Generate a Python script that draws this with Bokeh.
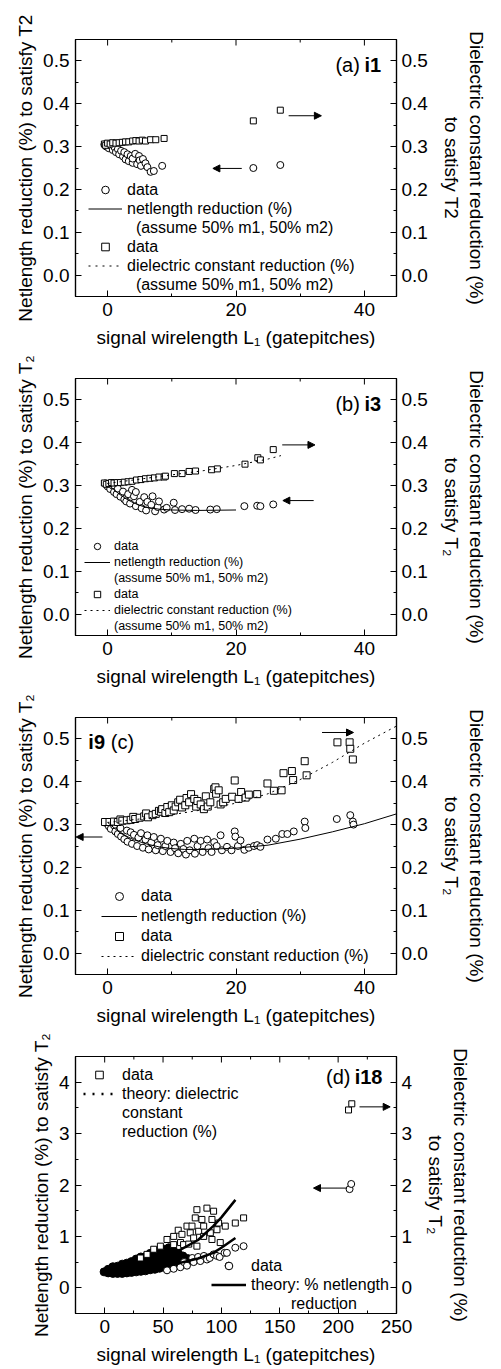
import math
from bokeh.plotting import figure
from bokeh.models import (Range1d, LinearAxis, FixedTicker, Legend, LegendItem,
                          Arrow, NormalHead, Label)
from bokeh.layouts import column
from bokeh.embed import file_html
from bokeh.resources import INLINE

FONT = "Liberation Sans"

# ---------------- tick definitions ----------------
X_TICKS_ABC = [0, 20, 40]
X_MINOR_ABC = [-10, 10, 30]
X_LABELS_ABC = ["0", "20", "40"]
Y_TICKS_ABC = [0.0, 0.1, 0.2, 0.3, 0.4, 0.5]
Y_MINOR_ABC = [-0.05, 0.05, 0.15, 0.25, 0.35, 0.45, 0.55]
Y_LABELS_ABC = ["0.0", "0.1", "0.2", "0.3", "0.4", "0.5"]
X_TICKS_D = [0, 50, 100, 150, 200, 250]
X_MINOR_D = [-25, 25, 75, 125, 175, 225]
X_LABELS_D = ["0", "50", "100", "150", "200", "250"]
Y_TICKS_D = [0, 1, 2, 3, 4]
Y_MINOR_D = [-0.5, 0.5, 1.5, 2.5, 3.5, 4.5]
Y_LABELS_D = ["0", "1", "2", "3", "4"]

# ---------------- panel (a) i1 ----------------
a_circ_x = [-0.5, -0.2, 0.2, 0.5, 0.8, 1.1, 1.3, 1.6, 1.8, 2.1, 2.4, 2.6, 2.8, 3.1, 3.3, 3.6,
            3.9, 3.9, 4.3, 4.6, 4.9, 5.0, 5.2, 5.5, 5.9, 6.2, 6.7, 7.2, 8.5, 22.7, 26.9]
a_circ_y = [0.305, 0.300, 0.296, 0.302, 0.292, 0.298, 0.287, 0.294, 0.282, 0.290, 0.277, 0.287,
            0.270, 0.282, 0.266, 0.278, 0.262, 0.272, 0.283, 0.259, 0.278, 0.268, 0.255, 0.271,
            0.261, 0.252, 0.241, 0.243, 0.255, 0.250, 0.257]
a_sq_x = [-0.5, -0.3, 0.0, 0.4, 0.8, 1.3, 1.8, 2.3, 2.8, 3.3, 3.9, 4.4, 4.9, 5.4, 5.9, 6.7,
          7.5, 8.8, 22.7, 26.9]
a_sq_y = [0.306, 0.303, 0.308, 0.306, 0.309, 0.308, 0.309, 0.310, 0.311, 0.311, 0.313, 0.314,
          0.313, 0.315, 0.313, 0.316, 0.316, 0.319, 0.360, 0.385]
a_net_x = [0, 1, 2, 3, 4, 5, 6, 7]
a_net_y = [0.305, 0.292, 0.281, 0.272, 0.264, 0.257, 0.251, 0.247]
a_diel_x = [0, 2, 4, 6, 8]
a_diel_y = [0.305, 0.308, 0.311, 0.314, 0.317]

# ---------------- panel (b) i3 ----------------
b_circ_x = [-0.4, 0.0, 0.4, 0.8, 1.0, 1.4, 1.6, 2.0, 2.4, 2.6, 2.9, 3.2, 3.5, 3.8, 4.1, 4.4,
            4.4, 5.0, 5.3, 5.7, 6.0, 6.2, 6.8, 7.0, 7.4, 7.8, 8.0, 8.8, 9.2, 10.3, 10.5, 11.6,
            12.7, 13.7, 16.0, 17.0, 21.3, 23.3, 23.8, 25.8]
b_circ_y = [0.305, 0.298, 0.292, 0.300, 0.285, 0.280, 0.293, 0.274, 0.286, 0.268, 0.263, 0.280,
            0.258, 0.290, 0.275, 0.252, 0.285, 0.262, 0.247, 0.273, 0.242, 0.262, 0.255, 0.275,
            0.240, 0.250, 0.263, 0.244, 0.248, 0.260, 0.243, 0.245, 0.246, 0.243, 0.244, 0.245,
            0.252, 0.253, 0.252, 0.256]
b_sq_x = [-0.5, -0.2, 0.2, 0.6, 1.0, 1.5, 2.0, 2.6, 3.2, 3.8, 4.5, 5.2, 5.9, 6.6, 7.3, 8.0,
          8.8, 9.0, 10.4, 11.6, 12.7, 13.7, 16.2, 17.1, 21.4, 23.4, 23.8, 25.8]
b_sq_y = [0.306, 0.303, 0.305, 0.307, 0.306, 0.307, 0.307, 0.308, 0.309, 0.310, 0.313, 0.314,
          0.316, 0.317, 0.318, 0.320, 0.320, 0.322, 0.328, 0.328, 0.333, 0.334, 0.337, 0.339,
          0.350, 0.365, 0.360, 0.384]
b_net_x = [0, 1, 2, 3, 4, 5, 6, 8, 10, 14, 20]
b_net_y = [0.305, 0.290, 0.278, 0.268, 0.260, 0.254, 0.249, 0.245, 0.243, 0.242, 0.243]
b_diel_x = [0, 5, 10, 15, 20, 25, 27]
b_diel_y = [0.305, 0.315, 0.325, 0.335, 0.347, 0.362, 0.370]

# ---------------- panel (c) i9 ----------------
c_circ_x = [-0.3, 0.2, 0.5, 1.0, 1.2, 1.6, 2.0, 2.1, 2.6, 3.0, 3.1, 3.6, 3.8, 4.1, 4.6, 4.8,
            5.2, 5.5, 5.9, 6.2, 6.4, 6.8, 7.2, 7.5, 7.8, 8.3, 8.6, 9.0, 9.3, 9.8, 10.3, 10.5,
            11.0, 11.4, 11.8, 12.2, 12.4, 12.8, 13.5, 13.6, 14.0, 14.5, 14.8, 15.5, 15.7, 16.2,
            16.6, 17.0, 17.6, 17.8, 18.6, 19.3, 19.8, 19.9, 20.3, 20.7, 21.3, 22.0, 22.8, 23.3,
            23.8, 24.9, 26.2, 27.2, 28.0, 29.0, 30.7, 30.8, 35.7, 37.8, 38.2, 38.3]
c_circ_y = [0.304, 0.296, 0.290, 0.298, 0.284, 0.278, 0.292, 0.272, 0.266, 0.286, 0.260, 0.282,
            0.255, 0.276, 0.250, 0.270, 0.280, 0.246, 0.265, 0.275, 0.242, 0.258, 0.271, 0.240,
            0.252, 0.267, 0.238, 0.250, 0.262, 0.236, 0.258, 0.245, 0.233, 0.255, 0.243, 0.230,
            0.262, 0.240, 0.267, 0.232, 0.250, 0.262, 0.236, 0.265, 0.245, 0.236, 0.259, 0.250,
            0.275, 0.240, 0.248, 0.240, 0.284, 0.272, 0.250, 0.263, 0.241, 0.246, 0.250, 0.252,
            0.248, 0.265, 0.267, 0.278, 0.278, 0.284, 0.307, 0.292, 0.313, 0.322, 0.307, 0.300]
c_sq_x = [-0.4, 0.3, 1.0, 1.6, 2.0, 2.3, 3.0, 3.6, 4.0, 4.3, 5.0, 5.7, 6.0, 6.3, 7.0, 7.5,
          8.0, 8.3, 8.5, 9.0, 9.3, 9.6, 10.0, 10.3, 10.6, 11.0, 11.3, 11.6, 12.1, 12.3, 12.7,
          13.0, 13.5, 13.8, 14.0, 14.5, 15.0, 15.3, 15.6, 16.0, 16.6, 16.8, 16.9, 17.3, 17.6,
          18.0, 18.4, 19.4, 19.8, 20.4, 20.8, 21.5, 22.0, 23.3, 24.9, 25.9, 27.1, 27.4, 28.7,
          28.9, 30.7, 31.0, 35.8, 37.7, 37.8, 38.2]
c_sq_y = [0.306, 0.306, 0.307, 0.306, 0.312, 0.309, 0.310, 0.311, 0.318, 0.313, 0.316, 0.319,
          0.326, 0.317, 0.322, 0.325, 0.332, 0.330, 0.336, 0.327, 0.341, 0.329, 0.345, 0.333,
          0.342, 0.352, 0.358, 0.340, 0.345, 0.362, 0.352, 0.371, 0.360, 0.342, 0.355, 0.347,
          0.336, 0.366, 0.342, 0.352, 0.383, 0.387, 0.372, 0.380, 0.347, 0.352, 0.360, 0.365,
          0.403, 0.360, 0.376, 0.363, 0.370, 0.371, 0.396, 0.379, 0.380, 0.420, 0.425, 0.404,
          0.448, 0.415, 0.492, 0.492, 0.477, 0.452]
c_net_x = [0, 2, 4, 6, 8, 10, 12, 15, 20, 25, 30, 35, 40, 45]
c_net_y = [0.305, 0.280, 0.265, 0.255, 0.248, 0.244, 0.242, 0.242, 0.245, 0.252, 0.266, 0.283,
           0.302, 0.325]
c_diel_x = [0, 5, 10, 15, 20, 25, 30, 35, 40, 45]
c_diel_y = [0.305, 0.313, 0.323, 0.335, 0.350, 0.372, 0.405, 0.445, 0.490, 0.530]

# ---------------- panel (d) i18 ----------------
d_dense_x = [-0.5, 3, 3, 7, 7, 7, 11, 11, 11, 15, 15, 15, 15, 19, 19, 19, 19, 23, 23, 23, 23,
             27, 27, 27, 27, 27, 31, 31, 31, 31, 31, 35, 35, 35, 35, 35, 39, 39, 39, 39, 39, 39,
             43, 43, 43, 43, 43, 43, 47, 47, 47, 47, 47, 47, 51, 51, 51, 51, 51, 51, 55, 55, 55,
             55, 55, 55, 59, 59, 59, 59, 59, 63, 63, 63, 63, 67, 67, 67, 71, 71, 75]
d_dense_y = [0.31, 0.29, 0.36, 0.28, 0.35, 0.41, 0.28, 0.35, 0.42, 0.28, 0.35, 0.42, 0.46,
             0.29, 0.36, 0.43, 0.48, 0.30, 0.37, 0.44, 0.51, 0.31, 0.38, 0.45, 0.52, 0.56,
             0.32, 0.39, 0.46, 0.53, 0.60, 0.33, 0.40, 0.47, 0.54, 0.61, 0.35, 0.42, 0.49, 0.56,
             0.63, 0.67, 0.36, 0.43, 0.50, 0.57, 0.64, 0.70, 0.38, 0.45, 0.52, 0.59, 0.66, 0.73,
             0.40, 0.47, 0.54, 0.61, 0.68, 0.75, 0.42, 0.49, 0.56, 0.63, 0.70, 0.78, 0.44, 0.51,
             0.58, 0.65, 0.72, 0.46, 0.53, 0.60, 0.67, 0.48, 0.55, 0.62, 0.50, 0.57, 0.53]
d_circ_x = [53.4, 59.1, 64.8, 68.0, 70.5, 75.0, 76.2, 80.0, 81.9, 85.0, 87.6, 90.0, 93.3, 96.2,
            98.5, 102.7, 104.7, 106.2, 111.9, 119.0, 209.8, 211.2]
d_circ_y = [0.34, 0.37, 0.40, 0.50, 0.43, 0.58, 0.50, 0.60, 0.52, 0.62, 0.55, 0.58, 0.65, 0.62,
            0.60, 0.68, 0.68, 0.43, 0.78, 0.81, 1.92, 2.02]
d_sq_x = [30.6, 36.3, 42.0, 47.7, 53.4, 59.1, 59.1, 63.0, 65.0, 66.2, 67.6, 70.5, 72.0, 73.3,
          74.8, 76.2, 77.6, 79.0, 79.0, 80.5, 83.3, 84.8, 84.8, 87.6, 90.5, 91.9, 91.9, 93.3,
          96.2, 97.6, 99.0, 103.3, 111.9, 119.0, 208.9, 211.7]
d_sq_y = [0.58, 0.65, 0.75, 0.81, 0.94, 1.00, 0.84, 1.12, 0.88, 1.04, 0.84, 1.20, 0.85, 1.07,
          1.20, 0.97, 1.36, 1.52, 0.81, 1.10, 1.33, 1.20, 1.00, 1.55, 1.07, 1.33, 0.94, 1.49,
          1.13, 1.26, 0.88, 1.20, 1.26, 1.36, 3.46, 3.58]
d_net_x = [0, 20, 40, 60, 80, 93, 100, 112]
d_net_y = [0.30, 0.31, 0.37, 0.46, 0.57, 0.68, 0.78, 0.97]
d_diel_x = [0, 20, 40, 60, 80, 93, 100, 112]
d_diel_y = [0.30, 0.38, 0.50, 0.68, 0.93, 1.20, 1.37, 1.71]

# arrows: (x_start, y_start, x_end, y_end)
a_arrows = [(28.2, 0.372, 33.3, 0.372), (20.9, 0.249, 16.4, 0.249)]
b_arrows = [(27.2, 0.395, 32.3, 0.395), (32.1, 0.265, 27.3, 0.265)]
c_arrows = [(33.4, 0.515, 38.3, 0.515), (-0.8, 0.271, -4.9, 0.271)]
d_arrows = [(218.3, 3.52, 244.6, 3.52), (207.5, 1.94, 178.9, 1.94)]

NB = "\u00a0"
NAN = [float("nan")]


def style_axis(ax, ticks, minor, labels):
    ax.ticker = FixedTicker(ticks=ticks, minor_ticks=minor)
    ax.major_label_overrides = {t: l for t, l in zip(ticks, labels)}
    ax.major_tick_in = 6
    ax.major_tick_out = 0
    ax.minor_tick_in = 3
    ax.minor_tick_out = 0
    ax.axis_line_color = "black"
    ax.axis_line_width = 1.2
    ax.major_tick_line_color = "black"
    ax.minor_tick_line_color = "black"
    ax.major_label_text_font = FONT
    ax.major_label_text_color = "black"
    ax.major_label_text_font_size = "19px"
    ax.major_label_standoff = 6
    ax.axis_label_text_font = FONT
    ax.axis_label_text_font_style = "normal"
    ax.axis_label_text_font_size = "19px"
    ax.axis_label_text_color = "black"
    ax.axis_label_standoff = 8


def make_fig(xr, yr, xt, xm, xl, yt, ym, yl, top, left_label, right_label):
    p = figure(frame_width=321, frame_height=257,
               x_range=Range1d(*xr), y_range=Range1d(*yr),
               output_backend="svg", toolbar_location=None, tools="",
               min_border_left=75, min_border_right=90,
               min_border_top=top, min_border_bottom=49,
               x_axis_location=None, y_axis_location=None,
               background_fill_color="white", border_fill_color="white",
               outline_line_color="black", outline_line_width=1.2)
    p.xgrid.visible = False
    p.ygrid.visible = False
    bottom = LinearAxis(axis_label="signal wirelength L\u2081 (gatepitches)")
    style_axis(bottom, xt, xm, xl)
    left = LinearAxis(axis_label=left_label)
    style_axis(left, yt, ym, yl)
    left.axis_label_standoff = 4
    right = LinearAxis(axis_label=right_label)
    style_axis(right, yt, ym, yl)
    right.major_label_standoff = 5
    right.axis_label_standoff = 10
    p.add_layout(bottom, "below")
    p.add_layout(left, "left")
    p.add_layout(right, "right")
    # mirrored tick marks on the top edge (inward), via screen-length rays
    p.ray(x=xt, y=[yr[1]] * len(xt), length=6, length_units="screen",
          angle=-math.pi / 2, line_color="black", line_width=1)
    p.ray(x=xm, y=[yr[1]] * len(xm), length=3, length_units="screen",
          angle=-math.pi / 2, line_color="black", line_width=1)
    return p


def circles(p, x, y, size=7):
    return p.scatter(x, y, marker="circle", size=size, fill_color="white",
                     line_color="black", line_width=1)


def squares(p, x, y, size=6):
    return p.scatter(x, y, marker="square", size=size, fill_color="white",
                     line_color="black", line_width=1)


def arrows(p, lst, size=7):
    for xs, ys, xe, ye in lst:
        p.add_layout(Arrow(end=NormalHead(size=size, line_color="black", fill_color="black",
                                          line_width=1),
                           x_start=xs, y_start=ys, x_end=xe, y_end=ye,
                           line_color="black", line_width=1))


def add_legend(p, items, loc, fs, lh, gw, standoff):
    leg = Legend(items=items, location=loc, background_fill_alpha=0, border_line_alpha=0,
                 padding=0, spacing=0, margin=0, label_height=lh, glyph_height=lh,
                 glyph_width=gw, label_standoff=standoff, label_text_font=FONT,
                 label_text_font_size=fs, label_text_color="black")
    p.add_layout(leg, "center")


def panel_label(p, x_a, x_b, y, txt_a, txt_b, align):
    p.add_layout(Label(x=x_a, y=y, text=txt_a, text_align=align, text_baseline="middle",
                       text_font=FONT, text_font_size="20px", text_color="black"))
    p.add_layout(Label(x=x_b, y=y, text=txt_b, text_align=align, text_baseline="middle",
                       text_font=FONT, text_font_size="20px", text_font_style="bold",
                       text_color="black"))


RIGHT_LABEL = "Dielectric constant reduction (%)\nto satisfy T\u2082"
LEFT_LABEL = "Netlength reduction (%) to satisfy T\u2082"

# ---------- (a) ----------
pa = make_fig((-5, 45), (-0.05, 0.55), X_TICKS_ABC, X_MINOR_ABC, X_LABELS_ABC,
              Y_TICKS_ABC, Y_MINOR_ABC, Y_LABELS_ABC, 39,
              "Netlength reduction (%) to satisfy T2",
              "Dielectric constant reduction (%)\nto satisfy T2")
ra_net = pa.line(a_net_x, a_net_y, line_color="black", line_width=1)
ra_diel = pa.line(a_diel_x, a_diel_y, line_color="black", line_width=1, line_dash="2 5")
ra_c = circles(pa, a_circ_x, a_circ_y)
ra_s = squares(pa, a_sq_x, a_sq_y)
ra_blank = pa.line(NAN, NAN, line_alpha=0)
arrows(pa, a_arrows)
panel_label(pa, 39.3, 42.6, 0.49, "(a)", "i1", "right")
add_legend(pa, [LegendItem(label="data", renderers=[ra_c]),
                LegendItem(label="netlength reduction (%)", renderers=[ra_net]),
                LegendItem(label=NB * 2 + "(assume 50% m1, 50% m2)", renderers=[ra_blank]),
                LegendItem(label="data", renderers=[ra_s]),
                LegendItem(label="dielectric constant reduction (%)", renderers=[ra_diel]),
                LegendItem(label=NB * 2 + "(assume 50% m1, 50% m2)", renderers=[ra_blank])],
           (13, 2), "16px", 19, 34, 5)

# ---------- (b) ----------
pb = make_fig((-5, 45), (-0.05, 0.55), X_TICKS_ABC, X_MINOR_ABC, X_LABELS_ABC,
              Y_TICKS_ABC, Y_MINOR_ABC, Y_LABELS_ABC, 28, LEFT_LABEL, RIGHT_LABEL)
rb_c = circles(pb, b_circ_x, b_circ_y)
rb_s = squares(pb, b_sq_x, b_sq_y)
rb_net = pb.line(b_net_x, b_net_y, line_color="black", line_width=1)
rb_diel = pb.line(b_diel_x, b_diel_y, line_color="black", line_width=1, line_dash="2 4")
rb_blank = pb.line(NAN, NAN, line_alpha=0)
arrows(pb, b_arrows)
panel_label(pb, 39.3, 42.6, 0.49, "(b)", "i3", "right")
add_legend(pb, [LegendItem(label="data", renderers=[rb_c]),
                LegendItem(label="netlength reduction (%)", renderers=[rb_net]),
                LegendItem(label="(assume 50% m1, 50% m2)", renderers=[rb_blank]),
                LegendItem(label="data", renderers=[rb_s]),
                LegendItem(label="dielectric constant reduction (%)", renderers=[rb_diel]),
                LegendItem(label="(assume 50% m1, 50% m2)", renderers=[rb_blank])],
           (9, 1), "12.5px", 16, 26, 4)

# ---------- (c) ----------
pc = make_fig((-5, 45), (-0.05, 0.55), X_TICKS_ABC, X_MINOR_ABC, X_LABELS_ABC,
              Y_TICKS_ABC, Y_MINOR_ABC, Y_LABELS_ABC, 28, LEFT_LABEL, RIGHT_LABEL)
rc_c = circles(pc, c_circ_x, c_circ_y)
rc_s = squares(pc, c_sq_x, c_sq_y, size=7)
rc_net = pc.line(c_net_x, c_net_y, line_color="black", line_width=1)
rc_diel = pc.line(c_diel_x, c_diel_y, line_color="black", line_width=1, line_dash="2 4")
arrows(pc, c_arrows)
panel_label(pc, 0.5, -3.0, 0.493, "(c)", "i9", "left")
add_legend(pc, [LegendItem(label="data", renderers=[rc_c]),
                LegendItem(label="netlength reduction (%)", renderers=[rc_net]),
                LegendItem(label="data", renderers=[rc_s]),
                LegendItem(label="dielectric constant reduction (%)", renderers=[rc_diel])],
           (26, 8), "16px", 20, 36, 4)

# ---------- (d) ----------
pd_ = make_fig((-25, 250), (-0.5, 4.5), X_TICKS_D, X_MINOR_D, X_LABELS_D,
               Y_TICKS_D, Y_MINOR_D, Y_LABELS_D, 28, LEFT_LABEL, RIGHT_LABEL)
pd_.scatter(d_dense_x, d_dense_y, marker="circle", size=8, fill_color="black",
            line_color="black", line_width=1)
rd_c = circles(pd_, d_circ_x, d_circ_y)
rd_s = squares(pd_, d_sq_x, d_sq_y)
rd_net = pd_.line(d_net_x, d_net_y, line_color="black", line_width=2.5)
pd_.line(d_diel_x, d_diel_y, line_color="black", line_width=2.5)
rd_diel_leg = pd_.line(NAN, NAN, line_color="black", line_width=2.5, line_dash="2 7")
rd_blank = pd_.line(NAN, NAN, line_alpha=0)
arrows(pd_, d_arrows)
panel_label(pd_, 210.6, 238.0, 4.1, "(d)", "i18", "right")
add_legend(pd_, [LegendItem(label="data", renderers=[rd_s]),
                 LegendItem(label="theory: dielectric", renderers=[rd_diel_leg]),
                 LegendItem(label="constant", renderers=[rd_blank]),
                 LegendItem(label="reduction (%)", renderers=[rd_blank])],
           (8, 172), "16px", 19, 32, 7)
add_legend(pd_, [LegendItem(label="data", renderers=[rd_c]),
                 LegendItem(label="theory: % netlength", renderers=[rd_net]),
                 LegendItem(label=NB * 9 + "reduction", renderers=[rd_blank])],
           (136, 0), "16px", 19, 35, 5)

layout = column(pa, pb, pc, pd_, spacing=0)
open("out.html", "w").write(file_html(layout, INLINE))
